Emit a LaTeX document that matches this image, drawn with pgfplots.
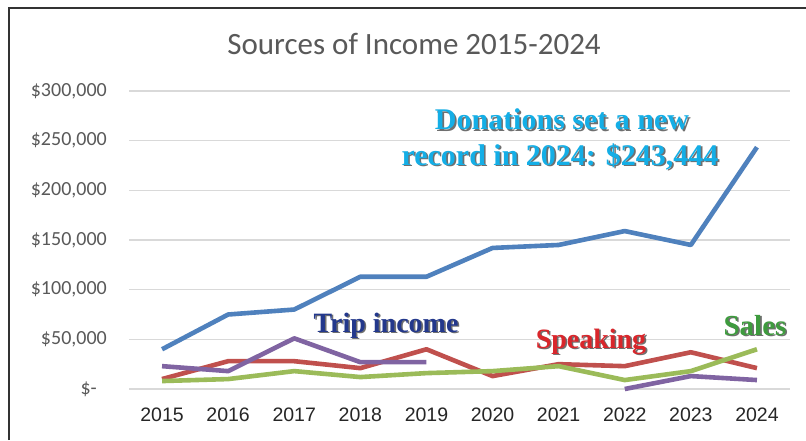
\documentclass[border=0pt]{standalone}
\usepackage{fontspec}
\usepackage{pgfplots}
\pgfplotsset{compat=1.18}
\usepackage{pgfplotstable}
\newfontfamily\carlito{Carlito}
\newfontfamily\libsans{Liberation Sans}
\newfontfamily\libserif{Liberation Serif}
\setmainfont{Carlito}
\definecolor{cblue}{HTML}{4F81BD}
\definecolor{cred}{HTML}{C0504D}
\definecolor{cgreen}{HTML}{9BBB59}
\definecolor{cpurple}{HTML}{8064A2}
\definecolor{gridc}{HTML}{D9D9D9}
\definecolor{ytxt}{HTML}{595959}
\definecolor{xtxt}{HTML}{262626}
\definecolor{titlec}{HTML}{595959}
\definecolor{anncyan}{HTML}{14AEE6}
\definecolor{annnavy}{HTML}{23388C}
\definecolor{annred}{HTML}{D9262B}
\definecolor{anngreen}{HTML}{3E9B3E}

\pgfplotstableread{
year value
2015 40000
2016 75000
2017 80000
2018 113000
2019 113000
2020 142000
2021 145000
2022 159000
2023 145000
2024 243444
}\donations
\pgfplotstableread{
year value
2015 10000
2016 28000
2017 28000
2018 21000
2019 40000
2020 13000
2021 25000
2022 23000
2023 37000
2024 21000
}\speaking
\pgfplotstableread{
year value
2015 8000
2016 10000
2017 18000
2018 12000
2019 16000
2020 18000
2021 23000
2022 9000
2023 18000
2024 40000
}\sales
\pgfplotstableread{
year value
2015 23000
2016 18000
2017 51000
2018 27000
2019 27000
2020 nan
2021 nan
2022 0
2023 13000
2024 9000
}\trip

\newcommand{\shadowtext}[5]{% x, y, color, size, text
  \node[anchor=base, inner sep=0pt, text=black!75, opacity=0.75] at ([xshift=1.6pt,yshift=-1.6pt]#1,#2) {\libserif\bfseries\fontsize{#4}{#4}\selectfont #5};
  \node[anchor=base, inner sep=0pt, text=#3] at (#1,#2) {\libserif\bfseries\fontsize{#4}{#4}\selectfont #5};
}

\begin{document}
\begin{tikzpicture}[x=1pt,y=1pt]
\path[use as bounding box, fill=white] (0,0) rectangle (806,440);
% frame
\draw[line width=2.4pt, draw=black!80] (9,0) -- (9,432) -- (806,432);

\begin{axis}[
  at={(129pt,51pt)}, anchor=south west,
  scale only axis, width=661pt, height=298pt,
  xmin=2014.5, xmax=2024.5, ymin=0, ymax=300000,
  clip=false,
  scaled y ticks=false, scaled x ticks=false,
  axis line style={draw=none},
  tick style={draw=none}, major tick length=0pt,
  xtick={2015,2016,2017,2018,2019,2020,2021,2022,2023,2024},
  xticklabels={2015,2016,2017,2018,2019,2020,2021,2022,2023,2024},
  ytick={0,50000,100000,150000,200000,250000,300000},
  yticklabels={\$-\hspace*{10pt},\$50{,}000,\$100{,}000,\$150{,}000,\$200{,}000,\$250{,}000,\$300{,}000},
  xticklabel style={font=\libsans\fontsize{19.5}{20}\selectfont, text=xtxt, anchor=base, inner sep=0pt, yshift=-32pt},
  yticklabel style={font=\carlito\fontsize{20}{22}\selectfont, text=ytxt, anchor=east, inner sep=0pt, xshift=-22pt},
  ymajorgrids, grid style={draw=gridc, line width=1.6pt},
  every axis plot/.append style={line width=4.6pt, line join=round, mark=none},
  unbounded coords=jump,
]
\addplot[cblue] table[x=year,y=value] {\donations};
\addplot[cred] table[x=year,y=value] {\speaking};
\addplot[cgreen] table[x=year,y=value] {\sales};
\addplot[cpurple] table[x=year,y=value] {\trip};
\end{axis}

% title
\node[anchor=base, inner sep=0pt, text=titlec] at (414,385) {\carlito\fontsize{31}{34}\selectfont Sources of Income 2015-2024};

% annotations
\shadowtext{562}{310}{anncyan}{30}{Donations set a new}
\shadowtext{560}{275}{anncyan}{30}{record in 2024: \$243,444}
\shadowtext{386}{108}{annnavy}{28}{Trip income}
\shadowtext{591}{92}{annred}{28}{Speaking}
\shadowtext{755}{105}{anngreen}{29}{Sales}
\end{tikzpicture}
\end{document}
